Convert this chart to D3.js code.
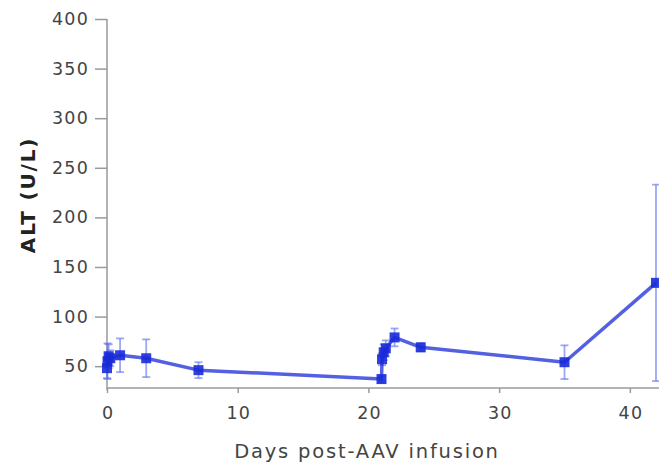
<!DOCTYPE html>
<html>
<head>
<meta charset="utf-8">
<script src="https://cdn.jsdelivr.net/npm/d3@7"></script>
<style>
  html, body { margin: 0; padding: 0; background: #fff; }
  svg { display: block; }
  text { font-family: "DejaVu Sans", sans-serif; fill: #444; }
</style>
</head>
<body>
<svg id="chart" width="659" height="463"></svg>
<script>
// ALT time course after AAV infusion (mean with error bars)
const days   = [0, 0.04, 0.125, 0.25, 1, 3, 7, 21, 21.04, 21.17, 21.33, 22, 24, 35, 42];
const altMean = [48, 55, 60, 58, 61, 58, 46, 37, 57, 64, 68, 79, 69, 54, 134];
const altErr  = [10, 18, 12, 8, 17, 19, 8, 3, 6, 8, 8, 9, 4, 17, 99];
const xTicks = [0, 10, 20, 30, 40];
const yTicks = [50, 100, 150, 200, 250, 300, 350, 400];

const points = days.map((d, i) => ({ day: d, value: altMean[i], err: altErr[i] }));

const svg = d3.select("#chart");
const x = d3.scaleLinear().domain([0, 42]).range([107, 656]);
const y = d3.scaleLinear().domain([28, 400]).range([388, 19]);

const axisColor = "#9a9a9a";

// y axis
const yAxis = svg.append("g")
  .attr("transform", "translate(107,0)")
  .call(d3.axisLeft(y).tickValues(yTicks).tickSize(12).tickPadding(6).tickSizeOuter(0));
yAxis.select(".domain").attr("stroke", axisColor).attr("stroke-width", 1.5)
  .attr("d", `M0,${y(400)}V390`);
yAxis.selectAll(".tick line").attr("stroke", axisColor).attr("stroke-width", 1.5);
yAxis.selectAll(".tick text").attr("font-size", 17.5).attr("letter-spacing", 1.2).style("fill", "#444");

// x axis
const xAxis = svg.append("g")
  .attr("transform", "translate(0,388)")
  .call(d3.axisBottom(x).tickValues(xTicks).tickSize(5).tickPadding(14).tickSizeOuter(0));
xAxis.select(".domain").attr("stroke", axisColor).attr("stroke-width", 1.5)
  .attr("d", `M${x(0)},0H659`);
xAxis.selectAll(".tick line").attr("stroke", axisColor).attr("stroke-width", 1.5);
xAxis.selectAll(".tick text").attr("font-size", 17.5).attr("letter-spacing", 1.2)
  .attr("dx", 0.6).style("fill", "#444");

// axis titles
svg.append("text")
  .attr("x", 367).attr("y", 458)
  .attr("text-anchor", "middle")
  .attr("font-size", 19.5)
  .attr("letter-spacing", 1.8)
  .text("Days post-AAV infusion");

svg.append("text")
  .attr("transform", "translate(35,195) rotate(-90)")
  .attr("text-anchor", "middle")
  .attr("font-size", 20)
  .attr("font-weight", "bold")
  .attr("letter-spacing", 1.8)
  .style("fill", "#222")
  .text("ALT (U/L)");

const blue = "#1a2bd8";

// error bars
const eb = svg.append("g").attr("stroke", "#5a6cf0").attr("stroke-opacity", 0.6).attr("stroke-width", 1.8);
points.forEach(p => {
  eb.append("line").attr("x1", x(p.day)).attr("x2", x(p.day))
    .attr("y1", y(p.value - p.err)).attr("y2", y(p.value + p.err));
  [p.value - p.err, p.value + p.err].forEach(v => {
    eb.append("line").attr("x1", x(p.day) - 4).attr("x2", x(p.day) + 4)
      .attr("y1", y(v)).attr("y2", y(v));
  });
});

// connecting line
svg.append("path")
  .datum(points)
  .attr("fill", "none")
  .attr("stroke", blue)
  .attr("stroke-opacity", 0.75)
  .attr("stroke-width", 3.5)
  .attr("stroke-linejoin", "round")
  .attr("d", d3.line().x(d => x(d.day)).y(d => y(d.value)));

// square markers
svg.append("g").selectAll("rect")
  .data(points)
  .join("rect")
  .attr("x", d => x(d.day) - 5)
  .attr("y", d => y(d.value) - 5)
  .attr("width", 10).attr("height", 10)
  .attr("fill", blue)
  .attr("fill-opacity", 0.9);
</script>
</body>
</html>
